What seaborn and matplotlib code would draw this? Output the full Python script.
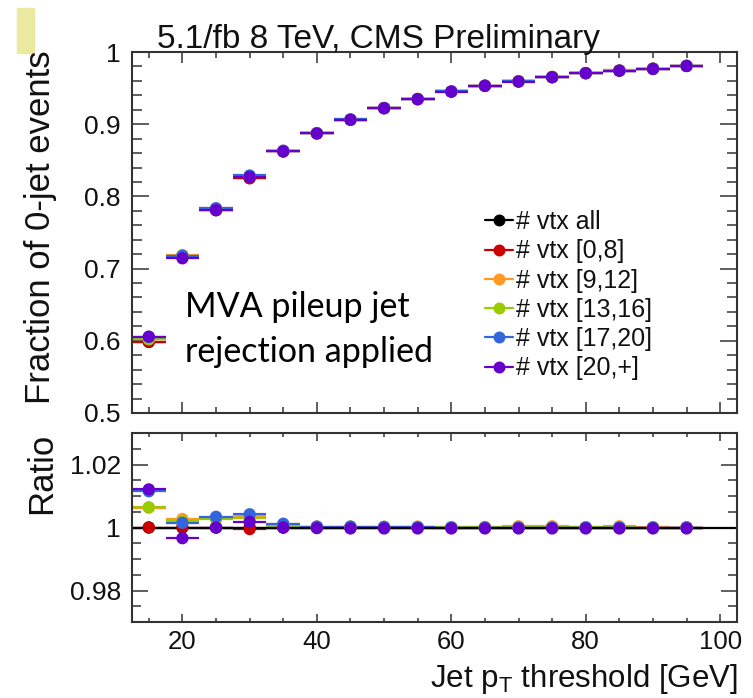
import numpy as np
import pandas as pd
import matplotlib
matplotlib.use("Agg")
import matplotlib.pyplot as plt
import seaborn as sns
from matplotlib.lines import Line2D
from matplotlib.patches import Rectangle
from matplotlib.ticker import MultipleLocator, FuncFormatter

# ---------------- data ----------------
pt_threshold = [15, 20, 25, 30, 35, 40, 45, 50, 55, 60, 65, 70, 75, 80, 85, 90, 95]
bin_half_width = 2.5

frac_all = [0.5985, 0.7167, 0.7810, 0.8255, 0.8623, 0.8873, 0.9063, 0.9223, 0.9348,
            0.9453, 0.9533, 0.9593, 0.9653, 0.9708, 0.9743, 0.9768, 0.9808]

series_labels = ["# vtx all", "# vtx [0,8]", "# vtx [9,12]", "# vtx [13,16]",
                 "# vtx [17,20]", "# vtx [20,+]"]
series_colors = ["#000000", "#cc0000", "#ff9922", "#99cc00", "#3366dd", "#6600cc"]

ratio_all = [1.0] * 17
ratio_0_8 = [1.0000, 1.0000, 1.0000, 0.9995, 1.0000, 1.0000, 1.0000, 1.0000, 1.0000,
             1.0000, 1.0000, 1.0000, 1.0000, 1.0000, 1.0000, 1.0000, 1.0000]
ratio_9_12 = [1.0063, 1.0027, 1.0030, 1.0035, 1.0010, 1.0003, 1.0002, 1.0002, 1.0003,
              1.0001, 1.0002, 1.0004, 1.0004, 1.0001, 1.0004, 1.0001, 1.0000]
ratio_13_16 = [1.0064, 1.0020, 1.0026, 1.0030, 1.0005, 1.0002, 1.0003, 1.0002, 1.0001,
               1.0001, 1.0001, 1.0001, 1.0001, 1.0001, 1.0001, 1.0000, 1.0000]
ratio_17_20 = [1.0115, 1.0015, 1.0034, 1.0042, 1.0012, 1.0003, 1.0003, 1.0002, 1.0001,
               1.0000, 1.0000, 1.0000, 1.0000, 1.0000, 1.0000, 1.0000, 1.0000]
ratio_20_up = [1.0121, 0.9966, 1.0000, 1.0018, 1.0000, 0.9998, 0.9997, 0.9997, 0.9997,
               0.9997, 0.9997, 0.9997, 0.9997, 0.9997, 0.9997, 0.9997, 0.9997]

ratio_list = [ratio_all, ratio_0_8, ratio_9_12, ratio_13_16, ratio_17_20, ratio_20_up]

# ---------------- style ----------------
sns.set_theme(style="ticks")
plt.rcParams["font.family"] = ["Liberation Sans", "DejaVu Sans"]
plt.rcParams["mathtext.fontset"] = "custom"
plt.rcParams["mathtext.rm"] = "Liberation Sans"
plt.rcParams["mathtext.it"] = "Liberation Sans:italic"
plt.rcParams["mathtext.bf"] = "Liberation Sans:bold"
TXT = "#111111"
SPINE = "#333333"

rows = []
for lab, r in zip(series_labels, ratio_list):
    for x, fa, rv in zip(pt_threshold, frac_all, r):
        rows.append({"pt": x, "series": lab, "frac": fa * rv, "ratio": rv})
df = pd.DataFrame(rows)
palette = dict(zip(series_labels, series_colors))

W, H = 753, 698
fig = plt.figure(figsize=(W / 100, H / 100), dpi=100)
fig.patch.set_facecolor("white")

ax_main = fig.add_axes([132 / W, 1 - 413 / H, 605 / W, 361 / H])
ax_ratio = fig.add_axes([132 / W, 1 - 622 / H, 605 / W, 189 / H])

for ax, col in [(ax_main, "frac"), (ax_ratio, "ratio")]:
    for lab in series_labels:
        sub = df[df.series == lab]
        ax.errorbar(sub.pt, sub[col], xerr=bin_half_width, fmt="none",
                    ecolor=palette[lab], elinewidth=1.6, capsize=0, zorder=2)
    sns.scatterplot(data=df, x="pt", y=col, hue="series", palette=palette,
                    hue_order=series_labels, s=78, edgecolor="none", linewidth=0,
                    legend=False, ax=ax, zorder=3)

ax_ratio.axhline(1.0, color="black", lw=1.6, zorder=2.5)

fmt = FuncFormatter(lambda v, p: f"{v:g}")
for ax in (ax_main, ax_ratio):
    ax.set_xlim(12.5, 102.5)
    ax.set_xlabel("")
    ax.set_ylabel("")
    ax.xaxis.set_major_locator(MultipleLocator(20))
    ax.xaxis.set_minor_locator(MultipleLocator(5))
    ax.yaxis.set_major_formatter(fmt)
    ax.xaxis.set_major_formatter(fmt)
    for s in ax.spines.values():
        s.set_visible(True)
        s.set_color(SPINE)
        s.set_linewidth(1.5)
    ax.tick_params(which="both", direction="in", top=True, right=True,
                   color=SPINE, width=1.1, labelsize=19, labelcolor=TXT)
    ax.set_facecolor("white")

ax_main.set_ylim(0.5, 1.0)
ax_main.yaxis.set_major_locator(MultipleLocator(0.1))
ax_main.yaxis.set_minor_locator(MultipleLocator(0.02))
ax_main.tick_params(axis="x", labelbottom=False)
ax_main.tick_params(axis="x", which="major", length=8)
ax_main.tick_params(axis="x", which="minor", length=4)
ax_main.tick_params(axis="y", which="major", length=12, pad=8)
ax_main.tick_params(axis="y", which="minor", length=7)

ax_ratio.set_ylim(0.97, 1.03)
ax_ratio.yaxis.set_major_locator(MultipleLocator(0.02))
ax_ratio.yaxis.set_minor_locator(MultipleLocator(0.005))
ax_ratio.tick_params(axis="x", which="major", length=6, pad=6, labelsize=18.5)
ax_ratio.tick_params(axis="x", which="minor", length=3)
ax_ratio.tick_params(axis="y", which="major", length=11.5, pad=8)
ax_ratio.tick_params(axis="y", which="minor", length=6.5)

# ---------------- texts ----------------
fig.text(157 / W, 1 - 48 / H, "5.1/fb 8 TeV, CMS Preliminary", fontsize=24,
         color=TXT, ha="left", va="baseline")
fig.text(41 / W, 1 - 50 / H, "Fraction of 0-jet events", rotation=90, fontsize=25,
         color=TXT, ha="center", va="top")
fig.text(42 / W, 1 - 433 / H, "Ratio", rotation=90, fontsize=25,
         color=TXT, ha="center", va="top")
fig.text(738 / W, 1 - 687 / H, r"Jet p$_\mathrm{T}$ threshold [GeV]", fontsize=22.5,
         color=TXT, ha="right", va="baseline")
fig.text(185 / W, 1 - 317 / H, "MVA pileup jet", family=["Lato", "DejaVu Sans"],
         fontsize=24.5, color="black", ha="left", va="baseline")
fig.text(185 / W, 1 - 362 / H, "rejection applied", family=["Lato", "DejaVu Sans"],
         fontsize=24.5, color="black", ha="left", va="baseline")

# decorative marker in the corner
fig.patches.append(Rectangle((17 / W, 1 - 53 / H), 17 / W, 45 / H,
                             transform=fig.transFigure, color="#ebe9a0", zorder=0))

# ---------------- legend ----------------
handles = [Line2D([], [], color=c, marker="o", markersize=8.6, lw=1.6,
                  markeredgewidth=0) for c in series_colors]
fig.legend(handles, series_labels, loc="upper left",
           bbox_to_anchor=(485 / W, 1 - 210 / H), frameon=False, fontsize=18,
           handlelength=1.12, handletextpad=0.1, labelspacing=0.21,
           borderpad=0, borderaxespad=0, labelcolor=TXT)

fig.savefig("out.png", dpi=100)
